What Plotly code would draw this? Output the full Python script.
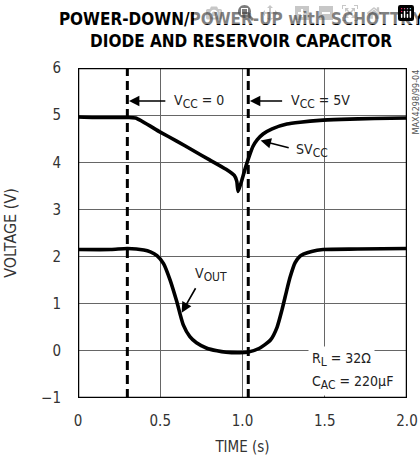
import plotly.graph_objects as go

# SVcc curve (time s, volts)
sv_t = [0.0, 0.1, 0.2, 0.3, 0.35, 0.5, 0.6, 0.7, 0.8, 0.9, 0.95, 0.965, 0.973, 0.99, 1.015, 1.04, 1.064, 1.09, 1.125, 1.18, 1.27, 1.35, 1.47, 1.6, 1.8, 2.0]
sv_v = [4.96, 4.95, 4.95, 4.95, 4.94, 4.64, 4.45, 4.25, 4.05, 3.85, 3.72, 3.60, 3.38, 3.55, 3.85, 4.12, 4.34, 4.48, 4.60, 4.71, 4.81, 4.85, 4.89, 4.91, 4.93, 4.94]

# Vout curve
vo_t = [0.0, 0.2, 0.3, 0.4, 0.44, 0.48, 0.52, 0.56, 0.60, 0.64, 0.68, 0.72, 0.78, 0.845, 0.9, 0.985, 1.03, 1.1, 1.17, 1.21, 1.24, 1.27, 1.29, 1.32, 1.35, 1.37, 1.42, 1.49, 1.7, 2.0]
vo_v = [2.15, 2.15, 2.17, 2.14, 2.10, 2.02, 1.85, 1.50, 1.05, 0.55, 0.30, 0.17, 0.06, 0.0, -0.03, -0.04, -0.03, 0.05, 0.23, 0.50, 0.87, 1.30, 1.57, 1.87, 2.01, 2.05, 2.11, 2.15, 2.16, 2.17]

x_ticks = [0, 0.5, 1.0, 1.5, 2.0]
x_labels = ["0", "0.5", "1.0", "1.5", "2.0"]
y_ticks = [-1, 0, 1, 2, 3, 4, 5, 6]

vcc_off_t = 0.30
vcc_on_t = 1.035

FONT = "DejaVu Sans Condensed, Roboto Condensed, Liberation Sans Narrow, Roboto, sans-serif"

fig = go.Figure()
fig.add_trace(go.Scatter(x=sv_t, y=sv_v, mode="lines", line=dict(color="black", width=3.6, shape="spline", smoothing=0.6), hoverinfo="skip"))
fig.add_trace(go.Scatter(x=vo_t, y=vo_v, mode="lines", line=dict(color="black", width=3.6, shape="spline", smoothing=0.6), hoverinfo="skip"))

for t in (vcc_off_t, vcc_on_t):
    fig.add_shape(type="line", x0=t, x1=t, y0=-1, y1=6, xref="x", yref="y",
                  line=dict(color="black", width=3, dash="9px,5px"))

fig.add_shape(type="rect", x0=0, x1=2, y0=-1, y1=6, xref="x", yref="y",
              line=dict(color="black", width=2.5), layer="above")

def sub(s):
    return '<span style="font-size:12px">' + s + '</span>'

txt = dict(family=FONT, size=14, color="#222")
arr = dict(showarrow=True, arrowhead=2, arrowsize=1.3, arrowwidth=1.6, arrowcolor="black", text="",
           xref="x", yref="y", axref="x", ayref="y")
# arrows
fig.add_annotation(x=vcc_off_t + 0.01, y=5.3, ax=0.54, ay=5.3, **arr)
fig.add_annotation(x=0.57, y=5.28, text="V<sub>" + sub("CC") + "</sub> = 0", showarrow=False, xanchor="left", font=txt)
fig.add_annotation(x=vcc_on_t + 0.01, y=5.3, ax=1.25, ay=5.3, **arr)
fig.add_annotation(x=1.28, y=5.28, text="V<sub>" + sub("CC") + "</sub> = 5V", showarrow=False, xanchor="left", font=txt)
fig.add_annotation(x=1.11, y=4.46, ax=1.29, ay=4.30, **arr)
fig.add_annotation(x=1.31, y=4.25, text="SV<sub>" + sub("CC") + "</sub>", showarrow=False, xanchor="left", font=txt)
fig.add_annotation(x=0.63, y=0.81, ax=0.72, ay=1.36, **arr)
fig.add_annotation(x=0.70, y=1.62, text="V<sub>" + sub("OUT") + "</sub>", showarrow=False, xanchor="left", font=txt)
fig.add_annotation(x=1.40, y=-0.19, text="R<sub>" + sub("L") + "</sub> = 32Ω", showarrow=False, xanchor="left",
                   font=txt, bgcolor="white", borderpad=3)
fig.add_annotation(x=1.40, y=-0.68, text="C<sub>" + sub("AC") + "</sub> = 220µF", showarrow=False, xanchor="left",
                   font=txt, bgcolor="white", borderpad=3)
fig.add_annotation(x=1.0, y=1.0, xref="paper", yref="paper", xshift=8, text="MAX4298/99-04",
                   textangle=-90, showarrow=False, xanchor="center", yanchor="top",
                   font=dict(family=FONT, size=9, color="#555"))

fig.update_layout(
    width=420, height=458,
    margin=dict(l=78, r=13, t=68, b=60, autoexpand=False),
    paper_bgcolor="white", plot_bgcolor="white",
    showlegend=False,
    title=dict(text="<b>POWER-DOWN/POWER-UP with SCHOTTKY<br>DIODE AND RESERVOIR CAPACITOR</b>",
               x=0.574, xanchor="center", y=1 - 25 / 458, yanchor="top",
               font=dict(family=FONT, size=17, color="black")),
    font=dict(family=FONT, size=14, color="#333"),
)
fig.update_xaxes(range=[0, 2], tickvals=x_ticks, ticktext=x_labels, showgrid=True, gridcolor="#666",
                 gridwidth=1.3, zeroline=False, showline=False, ticks="", automargin=False,
                 title=dict(text="TIME (s)", standoff=12, font=dict(size=15)),
                 tickfont=dict(size=15), ticklabelstandoff=12)
fig.update_yaxes(range=[-1, 6], tickvals=y_ticks, showgrid=True, gridcolor="#666",
                 gridwidth=1.3, zeroline=False, showline=False, ticks="", automargin=False,
                 title=dict(text="VOLTAGE (V)", standoff=20, font=dict(size=16)),
                 tickfont=dict(size=15), ticklabelstandoff=16)

fig.write_html("out.html",
               post_script="document.body.style.margin='0';document.body.style.overflow='hidden';")
